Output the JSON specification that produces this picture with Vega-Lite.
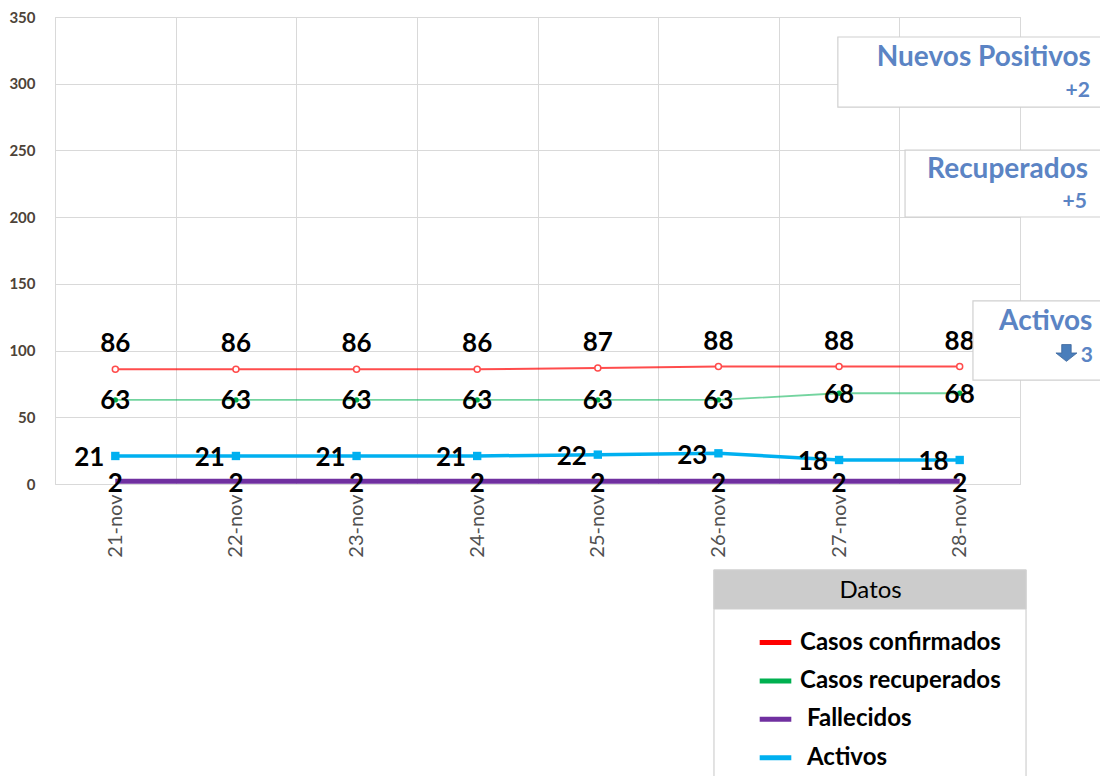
{
  "$schema": "https://vega.github.io/schema/vega-lite/v6.json",
  "width": 965,
  "height": 467,
  "autosize": "none",
  "padding": {"left": 55, "top": 17, "right": 80, "bottom": 292},
  "background": "white",
  "config": {"font": "Lato", "view": {"stroke": "#d9d9d9", "strokeWidth": 1}},
  "datasets": {
    "series": [
      {"date": "21-nov", "serie": "Casos confirmados", "value": 86},
      {"date": "22-nov", "serie": "Casos confirmados", "value": 86},
      {"date": "23-nov", "serie": "Casos confirmados", "value": 86},
      {"date": "24-nov", "serie": "Casos confirmados", "value": 86},
      {"date": "25-nov", "serie": "Casos confirmados", "value": 87},
      {"date": "26-nov", "serie": "Casos confirmados", "value": 88},
      {"date": "27-nov", "serie": "Casos confirmados", "value": 88},
      {"date": "28-nov", "serie": "Casos confirmados", "value": 88},
      {"date": "21-nov", "serie": "Casos recuperados", "value": 63},
      {"date": "22-nov", "serie": "Casos recuperados", "value": 63},
      {"date": "23-nov", "serie": "Casos recuperados", "value": 63},
      {"date": "24-nov", "serie": "Casos recuperados", "value": 63},
      {"date": "25-nov", "serie": "Casos recuperados", "value": 63},
      {"date": "26-nov", "serie": "Casos recuperados", "value": 63},
      {"date": "27-nov", "serie": "Casos recuperados", "value": 68},
      {"date": "28-nov", "serie": "Casos recuperados", "value": 68},
      {"date": "21-nov", "serie": "Fallecidos", "value": 2},
      {"date": "22-nov", "serie": "Fallecidos", "value": 2},
      {"date": "23-nov", "serie": "Fallecidos", "value": 2},
      {"date": "24-nov", "serie": "Fallecidos", "value": 2},
      {"date": "25-nov", "serie": "Fallecidos", "value": 2},
      {"date": "26-nov", "serie": "Fallecidos", "value": 2},
      {"date": "27-nov", "serie": "Fallecidos", "value": 2},
      {"date": "28-nov", "serie": "Fallecidos", "value": 2},
      {"date": "21-nov", "serie": "Activos", "value": 21},
      {"date": "22-nov", "serie": "Activos", "value": 21},
      {"date": "23-nov", "serie": "Activos", "value": 21},
      {"date": "24-nov", "serie": "Activos", "value": 21},
      {"date": "25-nov", "serie": "Activos", "value": 22},
      {"date": "26-nov", "serie": "Activos", "value": 23},
      {"date": "27-nov", "serie": "Activos", "value": 18},
      {"date": "28-nov", "serie": "Activos", "value": 18}
    ],
    "notes": [
      {"kind": "box", "x": 6.49, "x2": 8.75, "y": 335.0, "y2": 282.5},
      {"kind": "box", "x": 7.047, "x2": 8.75, "y": 250.3, "y2": 200.1},
      {"kind": "box", "x": 7.61, "x2": 8.75, "y": 137.2, "y2": 77.9},
      {"kind": "box", "x": 5.463, "x2": 8.05, "y": -64.45, "y2": -240},
      {"kind": "header", "x": 5.463, "x2": 8.05, "y": -64.45, "y2": -93.7},
      {"kind": "title", "x": 8.588, "y": 313.6, "text": "Nuevos Positivos"},
      {"kind": "delta", "x": 8.58, "y": 290.3, "text": "+2"},
      {"kind": "title", "x": 8.564, "y": 229.7, "text": "Recuperados"},
      {"kind": "delta", "x": 8.555, "y": 206.6, "text": "+5"},
      {"kind": "title", "x": 8.6, "y": 115.4, "text": "Activos"},
      {"kind": "delta", "x": 8.605, "y": 91.4, "text": "3"},
      {"kind": "caption", "x": 6.761, "y": -85.7, "text": "Datos"},
      {"kind": "arrow", "x": 8.385, "y": 98.2}
    ]
  },
  "layer": [
    {
      "data": {"name": "series"},
      "encoding": {
        "x": {
          "field": "date", "type": "ordinal", "sort": null,
          "scale": {"type": "band", "paddingInner": 0, "paddingOuter": 0},
          "axis": {
            "title": null, "labelAngle": 270, "labelFontSize": 20, "labelFontWeight": "normal",
            "labelColor": "#505050", "ticks": false, "domain": false, "labelPadding": 10,
            "grid": true, "gridColor": "#d9d9d9", "tickBand": "extent"
          }
        },
        "y": {
          "field": "value", "type": "quantitative",
          "scale": {"domain": [0, 350], "nice": false},
          "axis": {
            "title": null, "values": [0, 50, 100, 150, 200, 250, 300, 350],
            "labelFontSize": 15, "labelFontWeight": "bold", "labelColor": "#4d4338",
            "ticks": false, "domain": false, "labelPadding": 20, "gridColor": "#d9d9d9"
          }
        }
      },
      "layer": [
        {
          "transform": [{"filter": "datum.serie == 'Casos confirmados'"}],
          "mark": {"type": "line", "strokeWidth": 2, "opacity": 0.7},
          "encoding": {
            "color": {
              "field": "serie", "type": "nominal",
              "scale": {
                "domain": ["Casos confirmados", "Casos recuperados", "Fallecidos", "Activos"],
                "range": ["#ff0000", "#00b050", "#7030a0", "#00b0f0"]
              },
              "legend": {
                "title": null, "orient": "none", "legendX": 702, "legendY": 607,
                "symbolType": "stroke", "symbolSize": 1000, "symbolStrokeWidth": 5,
                "symbolOpacity": 1, "labelFontSize": 24, "labelFontWeight": "bold",
                "labelColor": "black", "rowPadding": 7.4, "labelOffset": 6, "padding": 0,
                "labelLimit": 400,
                "encode": {
                  "symbols": {"update": {"opacity": {"value": 1}, "strokeOpacity": {"value": 1}}},
                  "labels": {"update": {"dx": {"signal": "datum.value == 'Fallecidos' || datum.value == 'Activos' ? 7 : 0"}}}
                }
              }
            }
          }
        },
        {
          "transform": [{"filter": "datum.serie == 'Casos recuperados'"}],
          "mark": {"type": "line", "strokeWidth": 1.8, "opacity": 0.55},
          "encoding": {"color": {"field": "serie", "type": "nominal"}}
        },
        {
          "transform": [{"filter": "datum.serie == 'Fallecidos'"}],
          "mark": {"type": "line", "strokeWidth": 5},
          "encoding": {"color": {"field": "serie", "type": "nominal"}}
        },
        {
          "transform": [{"filter": "datum.serie == 'Activos'"}],
          "mark": {"type": "line", "strokeWidth": 3.5},
          "encoding": {"color": {"field": "serie", "type": "nominal"}}
        },
        {
          "transform": [{"filter": "datum.serie == 'Casos confirmados'"}],
          "mark": {"type": "point", "shape": "circle", "filled": false, "fill": "white", "stroke": "#ff4b4b", "strokeWidth": 1.5, "size": 36, "opacity": 1}
        },
        {
          "transform": [{"filter": "datum.serie == 'Casos recuperados'"}],
          "mark": {"type": "point", "shape": "circle", "filled": true, "color": "#00b050", "size": 28, "opacity": 1}
        },
        {
          "transform": [{"filter": "datum.serie == 'Activos'"}],
          "mark": {"type": "point", "shape": "square", "filled": true, "color": "#00b0f0", "size": 70, "opacity": 1}
        },
        {
          "transform": [{"filter": "datum.serie == 'Casos confirmados'"}],
          "mark": {"type": "text", "fontSize": 26, "fontWeight": "bold", "color": "black", "align": "center", "baseline": "alphabetic", "dy": -17},
          "encoding": {"text": {"field": "value", "type": "quantitative"}}
        },
        {
          "transform": [{"filter": "datum.serie == 'Casos recuperados'"}],
          "mark": {"type": "text", "fontSize": 26, "fontWeight": "bold", "color": "black", "align": "center", "baseline": "alphabetic", "dy": 9.5},
          "encoding": {"text": {"field": "value", "type": "quantitative"}}
        },
        {
          "transform": [{"filter": "datum.serie == 'Activos'"}],
          "mark": {"type": "text", "fontSize": 26, "fontWeight": "bold", "color": "black", "align": "right", "baseline": "alphabetic", "dx": -11, "dy": 10.5},
          "encoding": {"text": {"field": "value", "type": "quantitative"}}
        },
        {
          "transform": [{"filter": "datum.serie == 'Fallecidos'"}],
          "mark": {"type": "text", "fontSize": 26, "fontWeight": "bold", "color": "black", "align": "center", "baseline": "alphabetic", "dy": 10.4},
          "encoding": {"text": {"field": "value", "type": "quantitative"}}
        }
      ]
    },
    {
      "data": {"name": "notes"},
      "encoding": {
        "x": {"field": "x", "type": "quantitative", "scale": {"domain": [0, 8], "nice": false, "zero": false}, "axis": null},
        "y": {"field": "y", "type": "quantitative"}
      },
      "layer": [
        {
          "transform": [{"filter": "datum.kind == 'box'"}],
          "mark": {"type": "rect", "fill": "white", "stroke": "#d0d0d0", "strokeWidth": 1.2},
          "encoding": {"x2": {"field": "x2"}, "y2": {"field": "y2"}}
        },
        {
          "transform": [{"filter": "datum.kind == 'header'"}],
          "mark": {"type": "rect", "fill": "#cccccc", "stroke": "#d0d0d0", "strokeWidth": 1},
          "encoding": {"x2": {"field": "x2"}, "y2": {"field": "y2"}}
        },
        {
          "transform": [{"filter": "datum.kind == 'title'"}],
          "mark": {"type": "text", "fontSize": 28, "fontWeight": "bold", "color": "#5b84c4", "align": "right", "baseline": "alphabetic"},
          "encoding": {"text": {"field": "text"}}
        },
        {
          "transform": [{"filter": "datum.kind == 'delta'"}],
          "mark": {"type": "text", "fontSize": 21, "fontWeight": "bold", "color": "#5b84c4", "align": "right", "baseline": "alphabetic"},
          "encoding": {"text": {"field": "text"}}
        },
        {
          "transform": [{"filter": "datum.kind == 'caption'"}],
          "mark": {"type": "text", "fontSize": 24, "fontWeight": "normal", "color": "black", "align": "center", "baseline": "alphabetic"},
          "encoding": {"text": {"field": "text"}}
        },
        {
          "transform": [{"filter": "datum.kind == 'arrow'"}],
          "mark": {"type": "point", "filled": true, "fill": "#4a7ebb", "stroke": "#3a659a", "strokeWidth": 0.8, "opacity": 1, "size": 441,
                   "shape": "M-0.45,-0.8 L0.45,-0.8 L0.45,0 L1,0 L0,0.8 L-1,0 L-0.45,0 Z"}
        }
      ]
    }
  ],
  "resolve": {"scale": {"x": "independent"}}
}
